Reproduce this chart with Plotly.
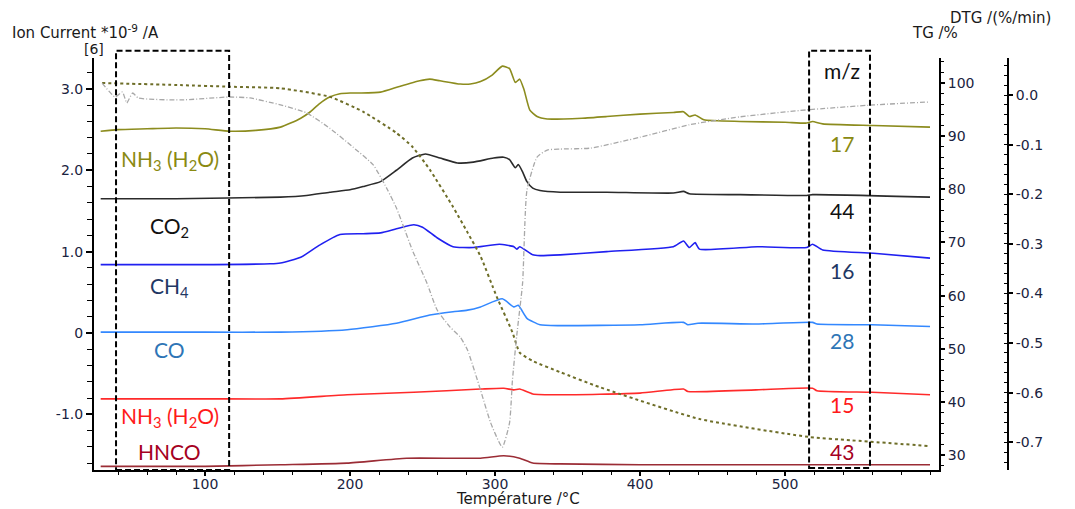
import plotly.graph_objects as go

# ---------------- data ----------------
T_17 = [28, 40, 60, 80, 100, 117, 135, 152, 159, 166, 172, 179, 186, 193, 200, 207, 221, 234, 248, 255, 262, 276, 283, 290, 298, 305, 310, 314, 317, 320, 324, 329, 336, 360, 377, 400, 423, 430, 434, 438, 444, 469, 500, 515, 519, 526, 561, 600]
I_17 = [2.48, 2.50, 2.51, 2.52, 2.51, 2.48, 2.49, 2.53, 2.58, 2.64, 2.71, 2.82, 2.90, 2.94, 2.95, 2.95, 2.96, 3.03, 3.10, 3.12, 3.10, 3.06, 3.06, 3.09, 3.17, 3.28, 3.25, 3.08, 3.12, 2.99, 2.74, 2.66, 2.63, 2.64, 2.66, 2.69, 2.71, 2.72, 2.66, 2.68, 2.62, 2.60, 2.59, 2.58, 2.60, 2.57, 2.55, 2.53]

T_44 = [28, 80, 152, 170, 186, 200, 209, 221, 232, 243, 252, 262, 274, 285, 299, 306, 310, 314, 316, 319, 322, 326, 331, 345, 377, 423, 430, 434, 469, 515, 519, 600]
I_44 = [1.65, 1.65, 1.67, 1.69, 1.73, 1.76, 1.80, 1.86, 2.00, 2.15, 2.20, 2.15, 2.09, 2.10, 2.15, 2.16, 2.13, 2.03, 2.07, 1.98, 1.86, 1.78, 1.75, 1.73, 1.73, 1.72, 1.74, 1.71, 1.70, 1.69, 1.70, 1.67]

T_16 = [28, 100, 145, 152, 166, 179, 193, 209, 221, 232, 244, 250, 260, 271, 285, 303, 313, 315, 317, 326, 331, 345, 377, 423, 430, 434, 438, 441, 481, 515, 519, 526, 561, 600]
I_16 = [0.84, 0.84, 0.85, 0.86, 0.93, 1.08, 1.21, 1.22, 1.23, 1.28, 1.33, 1.30, 1.17, 1.06, 1.05, 1.09, 1.06, 1.03, 1.06, 0.96, 0.95, 0.96, 1.00, 1.06, 1.13, 1.05, 1.11, 1.03, 1.06, 1.05, 1.09, 1.02, 0.98, 0.92]

T_28 = [28, 100, 152, 198, 232, 255, 271, 281, 290, 305, 313, 316, 322, 331, 345, 400, 430, 433, 440, 480, 519, 522, 560, 600]
I_28 = [0.01, 0.01, 0.01, 0.04, 0.12, 0.22, 0.26, 0.28, 0.32, 0.42, 0.32, 0.34, 0.18, 0.10, 0.09, 0.10, 0.13, 0.10, 0.12, 0.11, 0.13, 0.11, 0.10, 0.08]

T_15 = [28, 100, 152, 198, 244, 290, 306, 313, 317, 326, 345, 400, 430, 433, 480, 519, 522, 560, 600]
I_15 = [-0.81, -0.81, -0.81, -0.76, -0.73, -0.69, -0.68, -0.70, -0.69, -0.75, -0.76, -0.74, -0.69, -0.72, -0.70, -0.68, -0.71, -0.73, -0.76]

T_43 = [28, 100, 152, 198, 239, 290, 306, 317, 326, 345, 400, 600]
I_43 = [-1.64, -1.64, -1.62, -1.60, -1.54, -1.54, -1.51, -1.54, -1.60, -1.61, -1.62, -1.62]

T_TG = [29, 83, 117, 152, 186, 209, 232, 243, 255, 271, 281, 290, 301, 312, 317, 326, 345, 372, 441, 517, 545, 600]
TG = [100.0, 99.6, 99.3, 99.0, 97.4, 94.6, 90.6, 88.0, 83.7, 76.7, 71.9, 67.4, 59.9, 53.1, 49.3, 47.7, 45.6, 42.8, 36.8, 33.4, 32.8, 31.7]

T_DTG = [29, 38, 43, 46, 50, 54, 83, 117, 131, 152, 170, 186, 202, 216, 226, 232, 237, 243, 253, 260, 269, 276, 281, 290, 297, 305, 310, 312, 315, 319, 322, 329, 336, 345, 366, 400, 434, 469, 515, 561, 600]
DTG = [0.024, -0.004, 0.006, -0.016, 0.004, -0.006, -0.010, -0.004, -0.006, -0.020, -0.036, -0.067, -0.105, -0.141, -0.192, -0.228, -0.266, -0.313, -0.379, -0.433, -0.468, -0.488, -0.514, -0.595, -0.661, -0.710, -0.661, -0.575, -0.484, -0.379, -0.192, -0.125, -0.111, -0.109, -0.107, -0.085, -0.060, -0.044, -0.030, -0.020, -0.014]

x_tickvals = [100, 200, 300, 400, 500]
left_tickvals = [-1, 0, 1, 2, 3]
left_ticktext = ["-1.0", "0", "1.0", "2.0", "3.0"]
tg_tickvals = [30, 40, 50, 60, 70, 80, 90, 100]
dtg_tickvals = [0.0, -0.1, -0.2, -0.3, -0.4, -0.5, -0.6, -0.7]
dtg_ticktext = ["0.0", "-0.1", "-0.2", "-0.3", "-0.4", "-0.5", "-0.6", "-0.7"]

gas_labels = ["NH<sub>3</sub> (H<sub>2</sub>O)", "CO<sub>2</sub>", "CH<sub>4</sub>", "CO", "NH<sub>3</sub> (H<sub>2</sub>O)", "HNCO"]
gas_label_y = [2.13, 1.30, 0.57, -0.20, -1.03, -1.46]
mz_labels = ["17", "44", "16", "28", "15", "43"]
mz_label_y = [2.33, 1.50, 0.77, -0.09, -0.88, -1.46]
label_colors = ["#8a8a12", "#111111", "#1f3864", "#2e75b6", "#ff1a1a", "#a50021"]

# ---------------- styling ----------------
X_RANGE = [23.4, 606.2]
Y_RANGE = [-1.685, 3.38]
TG_RANGE = [27.2, 104.7]
DTG_RANGE = [-0.756, 0.0746]
DOM_END = 0.9245
AX_FONT = dict(family="DejaVu Sans, sans-serif", size=14, color="#1a2340")
LBL_FONT = "Lato, Open Sans, sans-serif"

series = [
    (T_17, I_17, "#8c8c1e"),
    (T_44, I_44, "#2b2b2b"),
    (T_16, I_16, "#2020f0"),
    (T_28, I_28, "#3388ff"),
    (T_15, I_15, "#ff2a2a"),
    (T_43, I_43, "#9b2c35"),
]

fig = go.Figure()
fig.add_trace(go.Scatter(x=T_DTG, y=DTG, yaxis="y3", mode="lines",
                         line=dict(color="#a8a8a8", width=1.3, dash="5px,2px,1px,2px", shape="spline", smoothing=0.5),
                         hoverinfo="skip"))
fig.add_trace(go.Scatter(x=T_TG, y=TG, yaxis="y2", mode="lines",
                         line=dict(color="#6e6e28", width=2, dash="dot", shape="spline", smoothing=0.5),
                         hoverinfo="skip"))
for tx, iy, col in series:
    fig.add_trace(go.Scatter(x=tx, y=iy, mode="lines",
                             line=dict(color=col, width=1.6, shape="spline", smoothing=0.5),
                             hoverinfo="skip"))


def tx2paper(t):
    return (t - X_RANGE[0]) / (X_RANGE[1] - X_RANGE[0]) * DOM_END


def iy2paper(v):
    return (v - Y_RANGE[0]) / (Y_RANGE[1] - Y_RANGE[0])


# dashed boxes (in data units, converted to paper so they are not clipped)
boxes = [(38.6, 116.6, -1.685, 3.47), (516.6, 558.6, -1.66, 3.47)]
for x0, x1, y0, y1 in boxes:
    fig.add_shape(type="rect", xref="paper", yref="paper",
                  x0=tx2paper(x0), x1=tx2paper(x1), y0=iy2paper(y0), y1=iy2paper(y1),
                  line=dict(color="black", width=2, dash="6px,3px"), layer="above")

annotations = []
for txt, yv, col in zip(gas_labels, gas_label_y, label_colors):
    annotations.append(dict(x=75.5, y=yv, xref="x", yref="y", text=txt, showarrow=False,
                            font=dict(family=LBL_FONT, size=21, color=col)))
for txt, yv, col in zip(mz_labels, mz_label_y, label_colors):
    annotations.append(dict(x=539, y=yv, xref="x", yref="y", text=txt, showarrow=False,
                            font=dict(family=LBL_FONT, size=21, color=col)))
annotations.append(dict(x=539, y=3.23, xref="x", yref="y", text="m/z", showarrow=False,
                        font=dict(family=LBL_FONT, size=21, color="#111111")))

TITLE_FONT = dict(family="DejaVu Sans, sans-serif", size=15, color="#1a1a1a")
annotations += [
    dict(x=-0.092, y=1.063, xref="paper", yref="paper", xanchor="left", yanchor="middle",
         text="Ion Current *10<sup>-9</sup> /A", showarrow=False, font=TITLE_FONT),
    dict(x=0.013, y=1.022, xref="paper", yref="paper", xanchor="right", yanchor="middle",
         text="[6]", showarrow=False, font=dict(family="DejaVu Sans, sans-serif", size=14, color="#1a1a1a")),
    dict(x=0.8928, y=1.061, xref="paper", yref="paper", xanchor="left", yanchor="middle",
         text="TG /%", showarrow=False, font=TITLE_FONT),
    dict(x=0.934, y=1.097, xref="paper", yref="paper", xanchor="left", yanchor="middle",
         text="DTG /(%/min)", showarrow=False, font=TITLE_FONT),
    dict(x=0.464, y=-0.071, xref="paper", yref="paper", xanchor="center", yanchor="middle",
         text="Température /°C", showarrow=False, font=TITLE_FONT),
]

# the page body adds an 8px offset, so margins are reduced by 8px on top/left
fig.update_layout(
    width=1075, height=509,
    margin=dict(l=86, r=75, t=50, b=47),
    paper_bgcolor="white", plot_bgcolor="white",
    showlegend=False,
    annotations=annotations,
    xaxis=dict(domain=[0, DOM_END], range=X_RANGE, showgrid=False, zeroline=False,
               showline=True, linecolor="black", linewidth=2,
               ticks="outside", ticklen=4, tickwidth=1.5, tickcolor="black",
               tickmode="array", tickvals=x_tickvals, tickfont=AX_FONT, ticklabelstandoff=-4,
               minor=dict(tickmode="linear", tick0=0, dtick=20, ticks="outside", ticklen=3, tickwidth=1.2, tickcolor="black")),
    yaxis=dict(range=Y_RANGE, showgrid=False, zeroline=False,
               showline=True, linecolor="black", linewidth=2,
               ticks="outside", ticklen=6, tickwidth=1.5, tickcolor="black",
               tickmode="array", tickvals=left_tickvals, ticktext=left_ticktext, tickfont=AX_FONT,
               minor=dict(tickmode="linear", tick0=0, dtick=0.2, ticks="outside", ticklen=5, tickwidth=1.2, tickcolor="black")),
    yaxis2=dict(range=TG_RANGE, overlaying="y", side="right", anchor="x",
                showgrid=False, zeroline=False,
                showline=True, linecolor="black", linewidth=2,
                ticks="outside", ticklen=4, tickwidth=1.5, tickcolor="black",
                tickmode="array", tickvals=tg_tickvals, tickfont=AX_FONT,
                minor=dict(tickmode="linear", tick0=0, dtick=2, ticks="outside", ticklen=3, tickwidth=1.2, tickcolor="black")),
    yaxis3=dict(range=DTG_RANGE, overlaying="y", side="right", anchor="free", position=1.0,
                showgrid=False, zeroline=False,
                showline=True, linecolor="black", linewidth=2,
                ticks="outside", ticklen=4, tickwidth=1.5, tickcolor="black",
                tickmode="array", tickvals=dtg_tickvals, ticktext=dtg_ticktext, tickfont=AX_FONT,
                minor=dict(tickmode="linear", tick0=0, dtick=0.02, ticks="inside", ticklen=3, tickwidth=1.2, tickcolor="black")),
)

fig.write_html("out.html")
